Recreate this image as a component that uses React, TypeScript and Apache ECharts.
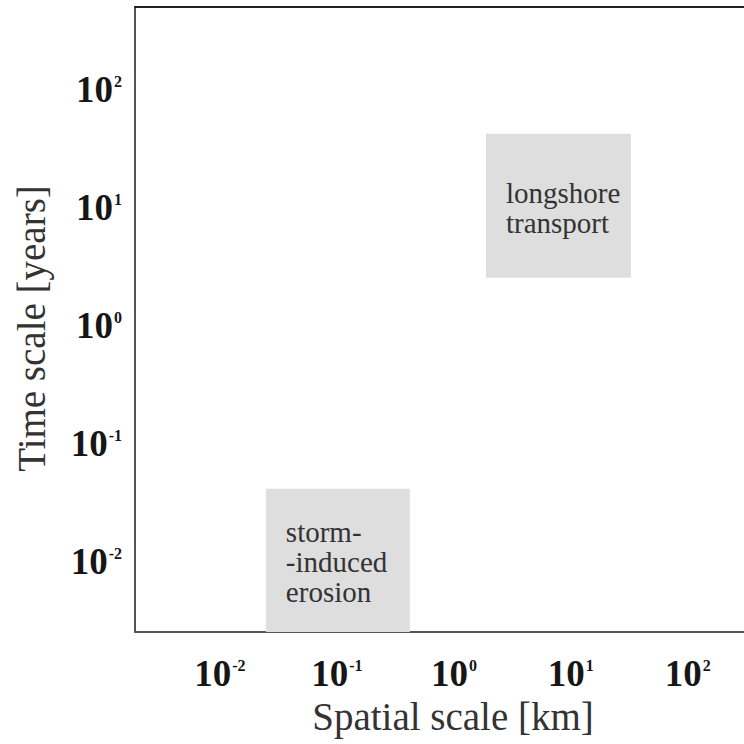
import React, { useEffect, useRef } from 'react';
import * as echarts from 'echarts';

// Tick exponents shown on both log axes (labels are 10^n)
const xTickExponents = [-2, -1, 0, 1, 2];
const yTickExponents = [-2, -1, 0, 1, 2];

// Visible axis extents (km, years)
const xAxisRange = [0.00188, 302];
const yAxisRange = [0.00255, 501];

// Process boxes: spatial extent [km] and time extent [years]
const boxLabels = ['storm-\n-induced\nerosion', 'longshore\ntransport'];
const boxXFrom = [0.0247, 1.88];
const boxXTo = [0.42, 32.6];
const boxYFrom = [0.00255, 2.55];
const boxYTo = [0.0416, 42.4];

const xTitle = 'Spatial scale [km]';
const yTitle = 'Time scale [years]';

const SERIF = '"Liberation Serif", "DejaVu Serif", serif';

function makeFormatter(exps: number[]) {
  return (v: number) => {
    const l = Math.log10(v);
    const e = Math.round(l);
    if (Math.abs(l - e) > 1e-6 || !exps.includes(e)) return '';
    return `{b|10}{s|${e}}`;
  };
}

const richLabel = {
  b: { fontFamily: SERIF, fontWeight: 'bold', fontSize: 37, lineHeight: 37, color: '#161616' },
  s: { fontFamily: SERIF, fontWeight: 'bold', fontSize: 16, lineHeight: 37, color: '#161616', verticalAlign: 'top', padding: [2, 0, 0, 1] },
};

export default function App() {
  const ref = useRef<HTMLDivElement>(null);
  useEffect(() => {
    if (!ref.current) return;
    const chart = echarts.init(ref.current, null, { renderer: 'svg' });
    const areas = boxLabels.map((name, i) => [
      { name, coord: [boxXFrom[i], boxYTo[i]] },
      { coord: [boxXTo[i], boxYFrom[i]] },
    ]);
    chart.setOption({
      animation: false,
      backgroundColor: '#ffffff',
      textStyle: { fontFamily: SERIF },
      grid: { left: 135, right: 0, top: 7, bottom: 112 },
      xAxis: [
        {
          type: 'log',
          logBase: 10,
          min: xAxisRange[0],
          max: xAxisRange[1],
          position: 'bottom',
          name: xTitle,
          nameLocation: 'middle',
          nameGap: 42,
          nameTextStyle: { fontFamily: SERIF, fontSize: 39, color: '#333', padding: [0, 0, 0, 27] },
          axisLine: { show: true, lineStyle: { color: '#555', width: 2 } },
          axisTick: { show: false },
          splitLine: { show: false },
          minorTick: { show: false },
          axisLabel: {
            margin: 23,
            formatter: makeFormatter(xTickExponents),
            rich: richLabel,
            showMinLabel: false,
            showMaxLabel: false,
          },
        },
        {
          type: 'log',
          logBase: 10,
          min: xAxisRange[0],
          max: xAxisRange[1],
          position: 'top',
          axisLine: { show: true, lineStyle: { color: '#222', width: 2 } },
          axisTick: { show: false },
          splitLine: { show: false },
          axisLabel: { show: false },
        },
      ],
      yAxis: {
        type: 'log',
        logBase: 10,
        min: yAxisRange[0],
        max: yAxisRange[1],
        name: yTitle,
        nameLocation: 'middle',
        nameRotate: 90,
        nameGap: 84,
        nameTextStyle: { fontFamily: SERIF, fontSize: 39, color: '#333', padding: [0, 18, 0, 0] },
        axisLine: { show: true, lineStyle: { color: '#555', width: 2 } },
        axisTick: { show: false },
        splitLine: { show: false },
        axisLabel: {
          margin: 13,
          formatter: makeFormatter(yTickExponents),
          rich: richLabel,
          showMinLabel: false,
          showMaxLabel: false,
        },
      },
      series: [
        {
          type: 'line',
          xAxisIndex: 0,
          yAxisIndex: 0,
          data: [],
          silent: true,
          markArea: {
            silent: true,
            itemStyle: { color: '#dedede', opacity: 1 },
            label: {
              show: true,
              position: 'insideLeft',
              distance: 20,
              align: 'left',
              verticalAlign: 'middle',
              fontFamily: SERIF,
              fontSize: 29,
              lineHeight: 30,
              color: '#333',
              offset: [0, 2],
              formatter: (p: any) => p.name,
            },
            data: areas,
          },
        },
      ],
    });
    return () => chart.dispose();
  }, []);
  return (
    <div
      ref={ref}
      style={{ position: 'absolute', left: 0, top: 0, width: 744, height: 744 }}
    />
  );
}
